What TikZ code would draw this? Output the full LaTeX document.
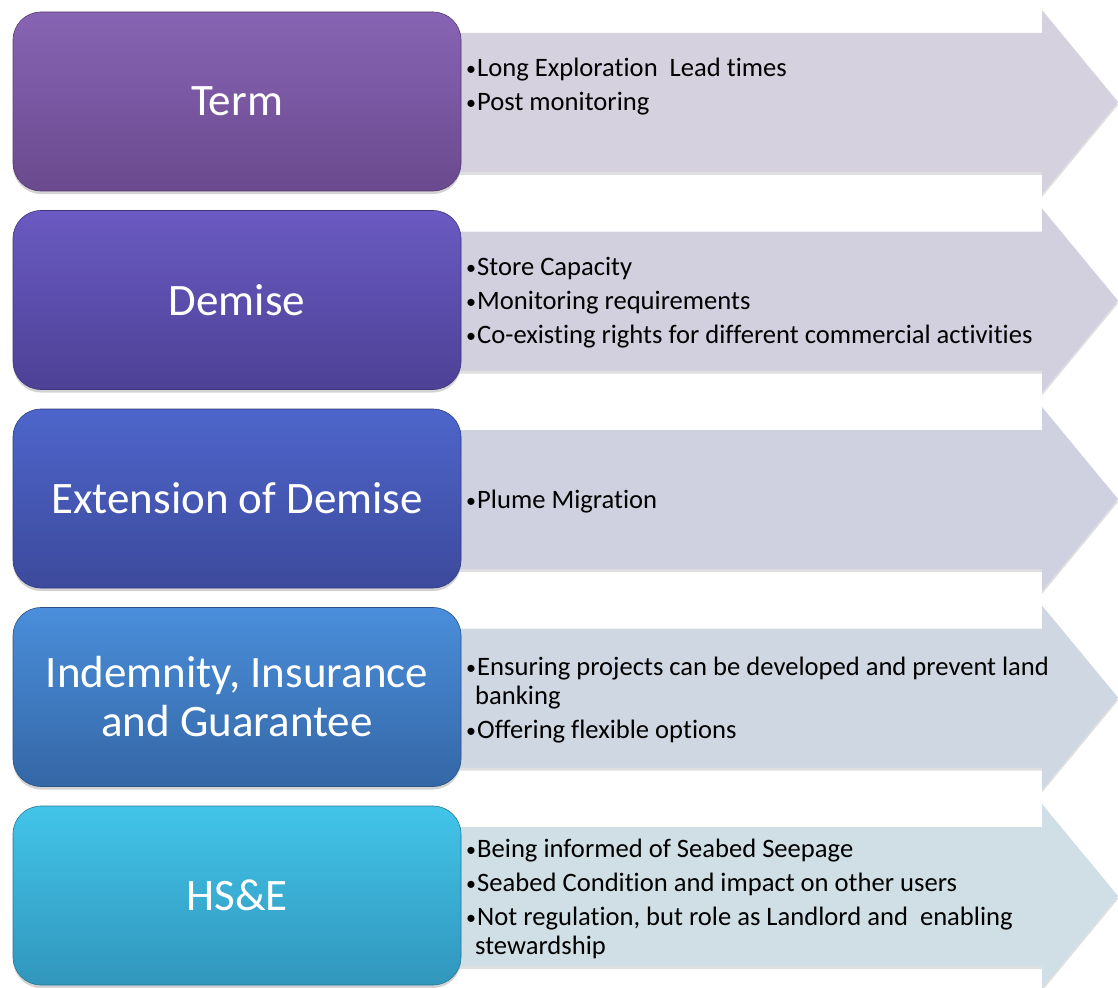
\documentclass[tikz,border=0pt]{standalone}
\usepackage{fontspec}
\setmainfont{Carlito}[Ligatures=NoCommon]
\usetikzlibrary{shadows}

\definecolor{termtop}{HTML}{8864B4}
\definecolor{termbot}{HTML}{6A4A8E}
\definecolor{demisetop}{HTML}{6A5AC2}
\definecolor{demisebot}{HTML}{4D4196}
\definecolor{extop}{HTML}{4D65CB}
\definecolor{exbot}{HTML}{3D4A9C}
\definecolor{indtop}{HTML}{4A8EDB}
\definecolor{indbot}{HTML}{3467A6}
\definecolor{hsetop}{HTML}{42C4E9}
\definecolor{hsebot}{HTML}{3196BC}
\definecolor{termarrow}{HTML}{D5D1DF}
\definecolor{demisearrow}{HTML}{D2CFDF}
\definecolor{exarrow}{HTML}{CFD1E1}
\definecolor{indarrow}{HTML}{CED7E2}
\definecolor{hsearrow}{HTML}{D0DFE6}

\newcommand{\bul}{\makebox[11pt][l]{\raisebox{1pt}{\fontsize{20}{20}\selectfont •}}}
\newcommand{\cont}{\hspace*{9pt}}

\begin{document}
\begin{tikzpicture}[x=1pt,y=-1pt,
    headbox/.style 2 args={rounded corners=28pt,minimum width=448pt,minimum height=179pt,
      top color=#1,bottom color=#2,draw=#2!80!black,line width=.6pt,text=white,
      font=\fontsize{45}{49}\selectfont,align=center,inner sep=0pt,
      drop shadow={opacity=.35,shadow xshift=0pt,shadow yshift=-3pt}},
    arrowbody/.style={fill=#1,drop shadow={opacity=.25,shadow xshift=0pt,shadow yshift=-3pt}},
    itemtext/.style={anchor=west,align=left,inner sep=0pt,
      font=\fontsize{26.6}{29}\selectfont}]
  \useasboundingbox (0,0) rectangle (1118,987);
  \begin{scope}[shift={(0,12)}]
    \path[arrowbody=termarrow] (440,21)--(1042,21)--(1042,-2)--(1118,90)--(1042,182)--(1042,160)--(440,160)--cycle;
    \node[headbox={termtop}{termbot}] (term) at (237,89.5) {Term};
    \node[itemtext] (termitems) at (466,75) {\bul Long Exploration\ \ Lead times\\[5pt]
      \bul Post monitoring};
  \end{scope}
  \begin{scope}[shift={(0,210.5)}]
    \path[arrowbody=demisearrow] (440,21)--(1042,21)--(1042,-2)--(1118,90)--(1042,182)--(1042,160)--(440,160)--cycle;
    \node[headbox={demisetop}{demisebot}] (demise) at (237,89.5) {Demise};
    \node[itemtext] (demiseitems) at (466,92.5) {\bul Store Capacity\\[5pt]
      \bul Monitoring requirements\\[5pt]
      \bul Co-existing rights for different commercial activities};
  \end{scope}
  \begin{scope}[shift={(0,409)}]
    \path[arrowbody=exarrow] (440,21)--(1042,21)--(1042,-2)--(1118,90)--(1042,182)--(1042,160)--(440,160)--cycle;
    \node[headbox={extop}{exbot}] (extension) at (237,89.5) {Extension of Demise};
    \node[itemtext] (extensionitems) at (466,92.5) {\bul Plume Migration};
  \end{scope}
  \begin{scope}[shift={(0,607.5)}]
    \path[arrowbody=indarrow] (440,21)--(1042,21)--(1042,-2)--(1118,90)--(1042,182)--(1042,160)--(440,160)--cycle;
    \node[headbox={indtop}{indbot}] (indemnity) at (237,89.5) {Indemnity, Insurance\\and Guarantee};
    \node[itemtext] (indemnityitems) at (466,92.5) {\bul Ensuring projects can be developed and prevent land\\
      \cont banking\\[5pt]
      \bul Offering flexible options};
  \end{scope}
  \begin{scope}[shift={(0,806)}]
    \path[arrowbody=hsearrow] (440,21)--(1042,21)--(1042,-2)--(1118,90)--(1042,182)--(1042,160)--(440,160)--cycle;
    \node[headbox={hsetop}{hsebot}] (hse) at (237,89.5) {HS\&E};
    \node[itemtext] (hseitems) at (466,92.5) {\bul Being informed of Seabed Seepage\\[5pt]
      \bul Seabed Condition and impact on other users\\[5pt]
      \bul Not regulation, but role as Landlord and\ \ enabling\\
      \cont stewardship};
  \end{scope}
\end{tikzpicture}
\end{document}
